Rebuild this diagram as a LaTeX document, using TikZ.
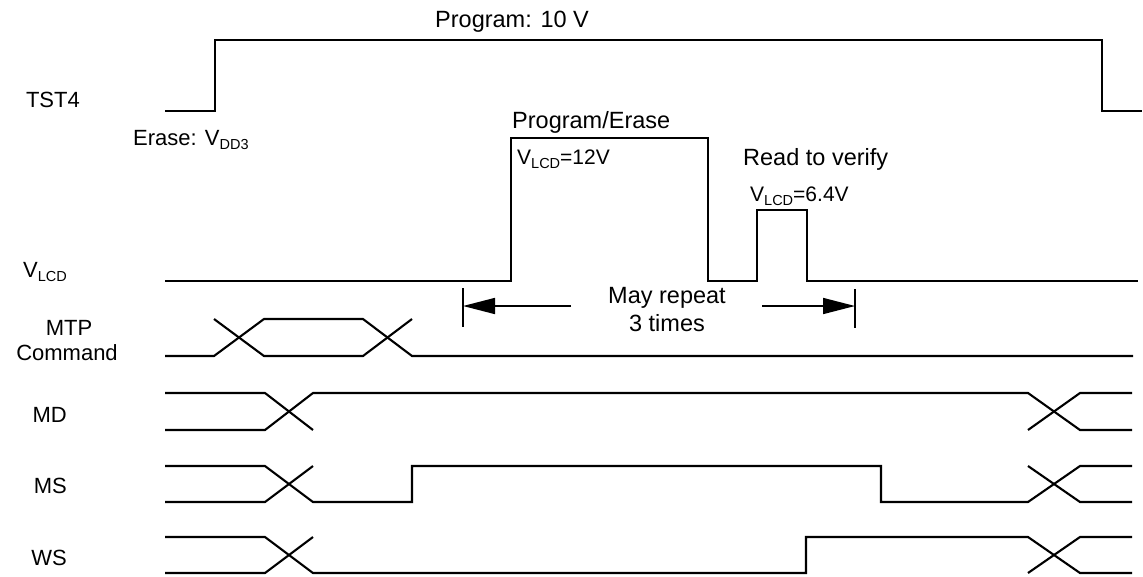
\documentclass[tikz,border=0pt]{standalone}
\usepackage{fontspec}
\setmainfont{Liberation Sans}
\usetikzlibrary{arrows.meta}
\newcommand\subs[1]{\raisebox{-0.2em}{\fontsize{14.5}{15}\selectfont #1}}
\tikzset{
  sig/.style={line width=2.1pt, line join=miter},
  bar/.style={line width=1.4pt},
  dimarrow/.style={line width=1.6pt, -{Triangle[length=32pt,width=16pt]}},
  big/.style={inner sep=0pt, font=\fontsize{23.5}{26}\selectfont},
  lbl/.style={inner sep=0pt, font=\fontsize{22}{26}\selectfont},
  sml/.style={inner sep=0pt, font=\fontsize{21}{24}\selectfont},
}
\begin{document}
\begin{tikzpicture}[x=1pt,y=-1pt]
\useasboundingbox (0,0) rectangle (1143,576);
% signal labels
\node[lbl, anchor=base east] (tst) at (80,107) {TST4};
\node[lbl, anchor=base east] (vlcd) at (67,277) {V\subs{LCD}};
\node[lbl, anchor=base] (mtp) at (69,335) {MTP};
\node[lbl, anchor=base] (cmd) at (67,360) {Command};
\node[lbl, anchor=base east] (md) at (67,422) {MD};
\node[lbl, anchor=base east] (ms) at (67,493) {MS};
\node[lbl, anchor=base east] (ws) at (67,565) {WS};
% annotations
\node[big, anchor=base west] (prog) at (435,27) {Program: 10 V};
\node[lbl, anchor=base west] (erase) at (133,145) {Erase: V\subs{DD3}};
\node[big, anchor=base west] (pe) at (512,128) {Program/Erase};
\node[sml, anchor=base west] (v12) at (517,164) {V\subs{LCD}=12V};
\node[big, anchor=base west] (rv) at (743,165) {Read to verify};
\node[sml, anchor=base west] (v64) at (750,201) {V\subs{LCD}=6.4V};
\node[big, anchor=base] (may) at (667,303) {May repeat};
\node[big, anchor=base] (times) at (667,331) {3 times};
% TST4
\draw[sig] (165,111) -- (215,111) -- (215,40) -- (1102,40) -- (1102,111) -- (1142,111);
% VLCD
\draw[sig] (165,281) -- (511,281) -- (511,138) -- (708,138) -- (708,281) -- (757,281)
  -- (757,210) -- (807,210) -- (807,281) -- (1138,281);
% repeat dimension
\coordinate (lb1) at (463,288); \coordinate (lb2) at (463,327);
\coordinate (rb1) at (855,289); \coordinate (rb2) at (855,328);
\coordinate (la) at (571,306); \coordinate (lt) at (463,306);
\coordinate (ra) at (762,306); \coordinate (rt) at (855,306);
\draw[bar] (lb1) -- (lb2);
\draw[bar] (rb1) -- (rb2);
\draw[dimarrow] (la) -- (lt);
\draw[dimarrow] (ra) -- (rt);
% MTP command
\draw[sig] (165,356) -- (214,356) -- (264,319) -- (363,319) -- (412,356) -- (1133,356);
\draw[sig] (214,319) -- (264,356) -- (363,356) -- (412,319);
% MD
\draw[sig] (165,393) -- (265,393) -- (313,430);
\draw[sig] (165,430) -- (265,430) -- (313,393) -- (1028,393) -- (1080,430) -- (1132,430);
\draw[sig] (1028,430) -- (1080,393) -- (1132,393);
% MS
\draw[sig] (165,466) -- (265,466) -- (313,502) -- (412,502) -- (412,466) -- (881,466)
  -- (881,502) -- (1028,502) -- (1080,466) -- (1132,466);
\draw[sig] (165,502) -- (265,502) -- (313,466);
\draw[sig] (1028,466) -- (1080,502) -- (1132,502);
% WS
\draw[sig] (165,537) -- (265,537) -- (313,573) -- (806,573) -- (806,537) -- (1028,537)
  -- (1080,573) -- (1132,573);
\draw[sig] (165,573) -- (265,573) -- (313,537);
\draw[sig] (1028,573) -- (1080,537) -- (1132,537);
\end{tikzpicture}
\end{document}
